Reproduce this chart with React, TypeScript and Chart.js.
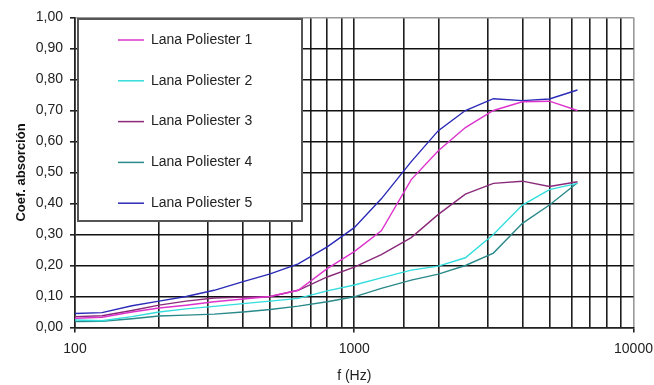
import React, { useEffect, useRef } from 'react';
import { Chart, registerables } from 'chart.js';

Chart.register(...registerables);

const frequencies = [100, 125, 160, 200, 250, 315, 400, 500, 630, 800, 1000, 1250, 1600, 2000, 2500, 3150, 4000, 5000, 6300];

const lana1 = [0.030, 0.033, 0.050, 0.063, 0.072, 0.083, 0.092, 0.100, 0.120, 0.190, 0.245, 0.312, 0.477, 0.570, 0.645, 0.700, 0.728, 0.730, 0.700];
const lana2 = [0.024, 0.022, 0.035, 0.050, 0.060, 0.068, 0.077, 0.085, 0.094, 0.118, 0.137, 0.160, 0.185, 0.198, 0.225, 0.300, 0.395, 0.445, 0.465];
const lana3 = [0.035, 0.038, 0.055, 0.072, 0.085, 0.095, 0.098, 0.100, 0.120, 0.163, 0.195, 0.235, 0.290, 0.365, 0.430, 0.465, 0.472, 0.455, 0.470];
const lana4 = [0.019, 0.020, 0.028, 0.037, 0.040, 0.043, 0.050, 0.058, 0.069, 0.083, 0.099, 0.126, 0.153, 0.172, 0.200, 0.240, 0.336, 0.395, 0.467];
const lana5 = [0.045, 0.048, 0.070, 0.085, 0.100, 0.120, 0.148, 0.173, 0.205, 0.260, 0.322, 0.415, 0.535, 0.635, 0.700, 0.738, 0.732, 0.737, 0.766];

const seriesNames = ['Lana Poliester 1', 'Lana Poliester 2', 'Lana Poliester 3', 'Lana Poliester 4', 'Lana Poliester 5'];
const seriesValues = [lana1, lana2, lana3, lana4, lana5];
const seriesColors = ['#dd33cc', '#33dddd', '#8a2a7a', '#2a8a8a', '#2b2bb8'];

const xTitle = 'f (Hz)';
const yTitle = 'Coef. absorción';

const FONT = '"Liberation Sans", Arial, sans-serif';

const isDecade = (v: number) => {
  const l = Math.log10(v);
  return Math.abs(l - Math.round(l)) < 1e-9;
};

const legendPlugin = {
  id: 'boxLegend',
  afterDraw(chart: any) {
    const { ctx, chartArea } = chart;
    const x0 = chartArea.left + 3;
    const y0 = chartArea.top + 1.5;
    const w = 224;
    const h = 202;
    ctx.save();
    ctx.fillStyle = '#ffffff';
    ctx.fillRect(x0, y0, w, h);
    ctx.strokeStyle = '#555555';
    ctx.lineWidth = 2;
    ctx.strokeRect(x0, y0, w, h);
    ctx.font = '14px ' + FONT;
    ctx.textBaseline = 'middle';
    ctx.textAlign = 'left';
    chart.data.datasets.forEach((ds: any, i: number) => {
      const y = y0 + 21 + i * 40.8;
      ctx.strokeStyle = ds.borderColor;
      ctx.lineWidth = 1.5;
      ctx.beginPath();
      ctx.moveTo(x0 + 40, y);
      ctx.lineTo(x0 + 66, y);
      ctx.stroke();
      ctx.fillStyle = '#222222';
      ctx.fillText(ds.label, x0 + 73, y);
    });
    ctx.restore();
  },
};

export default function App() {
  const canvasRef = useRef<HTMLCanvasElement | null>(null);

  useEffect(() => {
    if (!canvasRef.current) return;
    const chart = new Chart(canvasRef.current, {
      type: 'line',
      data: {
        datasets: seriesNames.map((name, i) => ({
          label: name,
          data: frequencies.map((f, j) => ({ x: f, y: seriesValues[i][j] })),
          borderColor: seriesColors[i],
          backgroundColor: seriesColors[i],
          borderWidth: 1.4,
          pointRadius: 0,
          tension: 0,
          fill: false,
        })),
      },
      options: {
        responsive: false,
        animation: false,
        layout: { padding: { left: 0, top: 17.5, right: 20.5, bottom: 0 } },
        plugins: {
          legend: { display: false },
          tooltip: { enabled: false },
        },
        scales: {
          x: {
            type: 'logarithmic',
            min: 100,
            max: 10000,
            ticks: {
              autoSkip: false,
              maxRotation: 0,
              padding: 8,
              color: '#222',
              font: { family: FONT, size: 14 },
              callback: (v: any) => (isDecade(Number(v)) ? String(Number(v)) : ''),
            },
            grid: {
              color: (c: any) => (c.tick && c.tick.value >= 10000 ? '#999' : '#1e1e1e'),
              lineWidth: 1.6,
              tickLength: 5,
              tickColor: (c: any) => (c.tick && isDecade(c.tick.value) ? '#222' : 'rgba(0,0,0,0)'),
            },
            border: { color: '#222', width: 1.5 },
            title: {
              display: true,
              text: xTitle,
              color: '#222',
              font: { family: FONT, size: 14 },
              padding: { top: 0, bottom: 0 },
            },
            afterFit: (s: any) => {
              s.height = 57.5;
              s.paddingLeft = 0;
              s.paddingRight = 0;
            },
          },
          y: {
            type: 'linear',
            min: 0,
            max: 1,
            ticks: {
              stepSize: 0.1,
              padding: 7,
              color: '#222',
              font: { family: FONT, size: 14 },
              callback: (v: any) => Number(v).toFixed(2).replace('.', ','),
            },
            grid: {
              color: (c: any) => (c.tick && c.tick.value > 0.999 ? '#999' : '#111'),
              lineWidth: 1.6,
              tickLength: 5,
              tickColor: '#222',
            },
            border: { color: '#222', width: 1.5 },
            title: {
              display: true,
              text: yTitle,
              color: '#111',
              font: { family: FONT, size: 13, weight: 'bold' },
              padding: { top: 14, bottom: 0 },
            },
            afterFit: (s: any) => {
              s.width = 75;
              s.paddingTop = 0;
              s.paddingBottom = 0;
            },
          },
        },
      },
      plugins: [legendPlugin],
    } as any);
    return () => chart.destroy();
  }, []);

  return (
    <div style={{ position: 'absolute', left: 0, top: 0, width: 654, height: 385, background: '#fff' }}>
      <canvas ref={canvasRef} width={654} height={385} style={{ display: 'block' }} />
    </div>
  );
}
